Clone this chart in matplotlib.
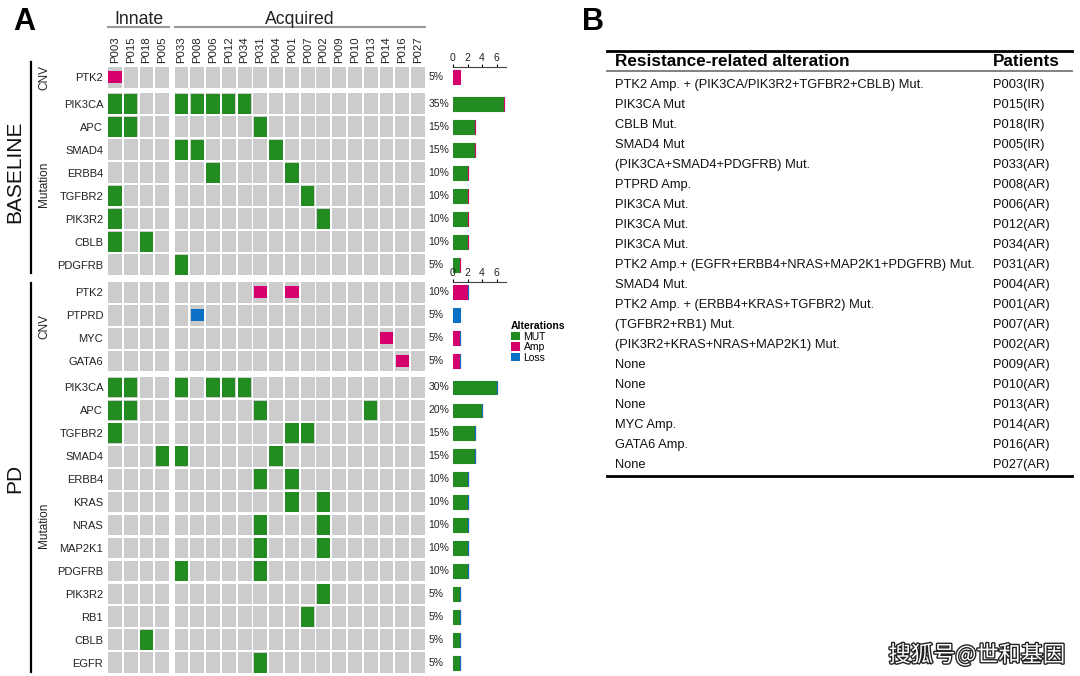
import matplotlib
matplotlib.use('Agg')
import matplotlib.pyplot as plt
import matplotlib.patheffects as pe
from matplotlib.patches import Patch
from matplotlib import transforms

plt.rcParams['font.family'] = ['Liberation Sans', 'DejaVu Sans']

# ---- data ----
patients = ['P003', 'P015', 'P018', 'P005',
            'P033', 'P008', 'P006', 'P012', 'P034', 'P031', 'P004', 'P001',
            'P007', 'P002', 'P009', 'P010', 'P013', 'P014', 'P016', 'P027']
n_innate = 4

baseline_genes = ['PTK2', 'PIK3CA', 'APC', 'SMAD4', 'ERBB4', 'TGFBR2',
                  'PIK3R2', 'CBLB', 'PDGFRB']
baseline_types = ['Amp', 'MUT', 'MUT', 'MUT', 'MUT', 'MUT', 'MUT', 'MUT', 'MUT']
baseline_hits = [['P003'],
                 ['P003', 'P015', 'P033', 'P008', 'P006', 'P012', 'P034'],
                 ['P003', 'P015', 'P031'],
                 ['P033', 'P008', 'P004'],
                 ['P006', 'P001'],
                 ['P003', 'P007'],
                 ['P003', 'P002'],
                 ['P003', 'P018'],
                 ['P033']]
baseline_n_cnv = 1

pd_genes = ['PTK2', 'PTPRD', 'MYC', 'GATA6', 'PIK3CA', 'APC', 'TGFBR2',
            'SMAD4', 'ERBB4', 'KRAS', 'NRAS', 'MAP2K1', 'PDGFRB', 'PIK3R2',
            'RB1', 'CBLB', 'EGFR']
pd_types = ['Amp', 'Loss', 'Amp', 'Amp'] + ['MUT'] * 13
pd_hits = [['P031', 'P001'],
           ['P008'],
           ['P014'],
           ['P016'],
           ['P003', 'P015', 'P033', 'P006', 'P012', 'P034'],
           ['P003', 'P015', 'P031', 'P013'],
           ['P003', 'P001', 'P007'],
           ['P005', 'P033', 'P004'],
           ['P031', 'P001'],
           ['P001', 'P002'],
           ['P031', 'P002'],
           ['P031', 'P002'],
           ['P033', 'P031'],
           ['P002'],
           ['P007'],
           ['P018'],
           ['P031']]
pd_n_cnv = 4

alt_order = ['MUT', 'Amp', 'Loss']
alt_colors = {'MUT': '#228B22', 'Amp': '#D5006D', 'Loss': '#0A72C6'}

table_alts = ['PTK2 Amp. + (PIK3CA/PIK3R2+TGFBR2+CBLB) Mut.',
              'PIK3CA Mut',
              'CBLB Mut.',
              'SMAD4 Mut',
              '(PIK3CA+SMAD4+PDGFRB) Mut.',
              'PTPRD Amp.',
              'PIK3CA Mut.',
              'PIK3CA Mut.',
              'PIK3CA Mut.',
              'PTK2 Amp.+ (EGFR+ERBB4+NRAS+MAP2K1+PDGFRB) Mut.',
              'SMAD4 Mut.',
              'PTK2 Amp. + (ERBB4+KRAS+TGFBR2) Mut.',
              '(TGFBR2+RB1) Mut.',
              '(PIK3R2+KRAS+NRAS+MAP2K1) Mut.',
              'None',
              'None',
              'None',
              'MYC Amp.',
              'GATA6 Amp.',
              'None']
table_patients = ['P003(IR)', 'P015(IR)', 'P018(IR)', 'P005(IR)',
                  'P033(AR)', 'P008(AR)', 'P006(AR)', 'P012(AR)', 'P034(AR)',
                  'P031(AR)', 'P004(AR)', 'P001(AR)', 'P007(AR)', 'P002(AR)',
                  'P009(AR)', 'P010(AR)', 'P013(AR)', 'P014(AR)', 'P016(AR)',
                  'P027(AR)']

W, H = 1080, 676
GRAY = '#CCCCCC'
FS = 8
TXT = '#222222'

fig = plt.figure(figsize=(W / 100, H / 100), dpi=100)


def px_axes(x0, y0, x1, y1):
    return fig.add_axes([x0 / W, 1 - y1 / H, (x1 - x0) / W, (y1 - y0) / H])


col_x = [i + (0.22 if i >= n_innate else 0) for i in range(len(patients))]


def row_y(n_rows, n_cnv):
    return [r + (0.15 if r >= n_cnv else 0) for r in range(n_rows)]


def draw_heatmap(ax, genes, types, hits, n_cnv, top_labels):
    ys = row_y(len(genes), n_cnv)
    for gi, y in enumerate(ys):
        ax.bar(col_x, 0.9, width=0.88, bottom=y - 0.45, color=GRAY,
               linewidth=0)
        for p in hits[gi]:
            x = col_x[patients.index(p)]
            t = types[gi]
            h = 0.86 if t == 'MUT' else 0.52
            ax.bar(x, h, width=0.84, bottom=y - h / 2,
                   color=alt_colors[t], linewidth=0)
        pct = '{:d}%'.format(int(round(100 * len(hits[gi]) / len(patients))))
        ax.text(1.01, y, pct, transform=ax.get_yaxis_transform(),
                va='center', ha='left', fontsize=7.5, color=TXT)
    ax.set_xlim(-0.44, col_x[-1] + 0.44)
    ax.set_ylim(ys[-1] + 0.45, -0.45)
    ax.set_yticks(ys)
    ax.set_yticklabels(genes, fontsize=FS, color=TXT)
    ax.tick_params(axis='y', length=0, pad=3.5)
    if top_labels:
        ax.xaxis.tick_top()
        ax.set_xticks(col_x)
        ax.set_xticklabels(patients, rotation=90, fontsize=8.2, color=TXT)
        ax.tick_params(axis='x', length=0, pad=3)
    else:
        ax.set_xticks([])
    for s in ax.spines.values():
        s.set_visible(False)
    return ys


def draw_bars(ax, types, hits, ys, order):
    left = [0.0] * len(ys)
    for t in order:
        vals = [len(hits[i]) if types[i] == t else 0 for i in range(len(ys))]
        ax.barh(ys, vals, left=left, height=0.6, color=alt_colors[t],
                edgecolor=alt_colors[t], linewidth=0.8)
        left = [a + b for a, b in zip(left, vals)]
    ax.set_xlim(0, 7.3)
    ax.set_ylim(ys[-1] + 0.45, -0.45)
    ax.xaxis.tick_top()
    ax.set_xticks([0, 2, 4, 6])
    ax.tick_params(axis='x', length=2, width=0.8, pad=1, labelsize=7.5,
                   labelcolor=TXT)
    ax.set_yticks([])
    for k, s in ax.spines.items():
        s.set_visible(k == 'top')
    ax.spines['top'].set_linewidth(0.8)
    ax.spines['top'].set_color('#444444')
    ax.patch.set_alpha(0)


ax_b = px_axes(108, 67, 425, 275)
ys_b = draw_heatmap(ax_b, baseline_genes, baseline_types, baseline_hits,
                    baseline_n_cnv, True)
ax_p = px_axes(108, 282, 425, 673)
ys_p = draw_heatmap(ax_p, pd_genes, pd_types, pd_hits, pd_n_cnv, False)

axb_bar = px_axes(453, 67, 506, 275)
draw_bars(axb_bar, baseline_types, baseline_hits, ys_b, ['MUT', 'Amp'])
axp_bar = px_axes(453, 282, 506, 673)
draw_bars(axp_bar, pd_types, pd_hits, ys_p, alt_order)

# overlay in pixel coordinates for annotations and table
ov = fig.add_axes([0, 0, 1, 1])
ov.set_xlim(0, W)
ov.set_ylim(H, 0)
ov.axis('off')
ov.patch.set_alpha(0)

ov.text(13, 22, 'A', fontsize=22, fontweight='bold', va='center', ha='left')
ov.text(582, 22, 'B', fontsize=22, fontweight='bold', va='center', ha='left')

# Innate / Acquired headers
tr = transforms.blended_transform_factory(ax_b.transData, ov.transData)
groups = [('Innate', 0, n_innate - 1), ('Acquired', n_innate, len(patients) - 1)]
for name, a, b in groups:
    x0, x1 = col_x[a] - 0.44, col_x[b] + 0.44
    ov.text((x0 + x1) / 2, 24.5, name, transform=tr, ha='center',
            va='baseline', fontsize=12.7, color=TXT)
    ov.plot([x0, x1], [27, 27], transform=tr, color='#999999', lw=1.5)

# left side group labels
ov.text(15, 172, 'BASELINE', rotation=90, fontsize=15, ha='center',
        va='center', color='#111111')
ov.text(15, 478, 'PD', rotation=90, fontsize=15, ha='center',
        va='center', color='#111111')
ov.plot([31, 31], [62, 273], color='black', lw=1.6)
ov.plot([31, 31], [283, 672], color='black', lw=1.6)

for ax, ys, n_cnv in [(ax_b, ys_b, baseline_n_cnv), (ax_p, ys_p, pd_n_cnv)]:
    trs = transforms.blended_transform_factory(ov.transData, ax.transData)
    cnv_c = (ys[0] + ys[n_cnv - 1]) / 2
    mut_c = (ys[n_cnv] + ys[-1]) / 2
    ov.text(44, cnv_c, 'CNV', transform=trs, rotation=90, fontsize=8.5,
            ha='center', va='center', color=TXT)
    ov.text(44, mut_c, 'Mutation', transform=trs, rotation=90, fontsize=8.5,
            ha='center', va='center', color=TXT)

# legend
handles = [Patch(facecolor=alt_colors[t], edgecolor='none', label=t)
           for t in alt_order]
leg = fig.legend(handles=handles, title='Alterations', loc='upper left',
                 bbox_to_anchor=(511 / W, 1 - 321 / H), frameon=False,
                 fontsize=7.5,
                 title_fontproperties={'weight': 'bold', 'size': 7.5},
                 handlelength=0.9, handleheight=0.9, labelspacing=0.05,
                 handletextpad=0.3, borderpad=0, borderaxespad=0,
                 alignment='left')

# table B
tx0, tx1 = 607, 1072
ov.plot([tx0, tx1], [51, 51], color='black', lw=2)
ov.text(615, 61, 'Resistance-related alteration', fontsize=12.3,
        fontweight='bold', va='center', ha='left')
ov.text(993, 61, 'Patients', fontsize=12.3, fontweight='bold', va='center',
        ha='left')
ov.plot([tx0, tx1], [71, 71], color='#777777', lw=1.3)
for i, (alt, pat) in enumerate(zip(table_alts, table_patients)):
    y = 85 + 20 * i
    ov.text(615, y, alt, fontsize=9.3, va='center', ha='left', color='#111111')
    ov.text(993, y, pat, fontsize=9.3, va='center', ha='left', color='#111111')
ov.plot([tx0, tx1], [476, 476], color='black', lw=2)

# watermark
ov.text(977, 655, '搜狐号@世和基因', fontsize=16, ha='center', va='center',
        color='white', family=['Noto Sans CJK SC', 'DejaVu Sans'],
        path_effects=[pe.withStroke(linewidth=2, foreground='#222222')])

fig.savefig('out.png', dpi=100)
